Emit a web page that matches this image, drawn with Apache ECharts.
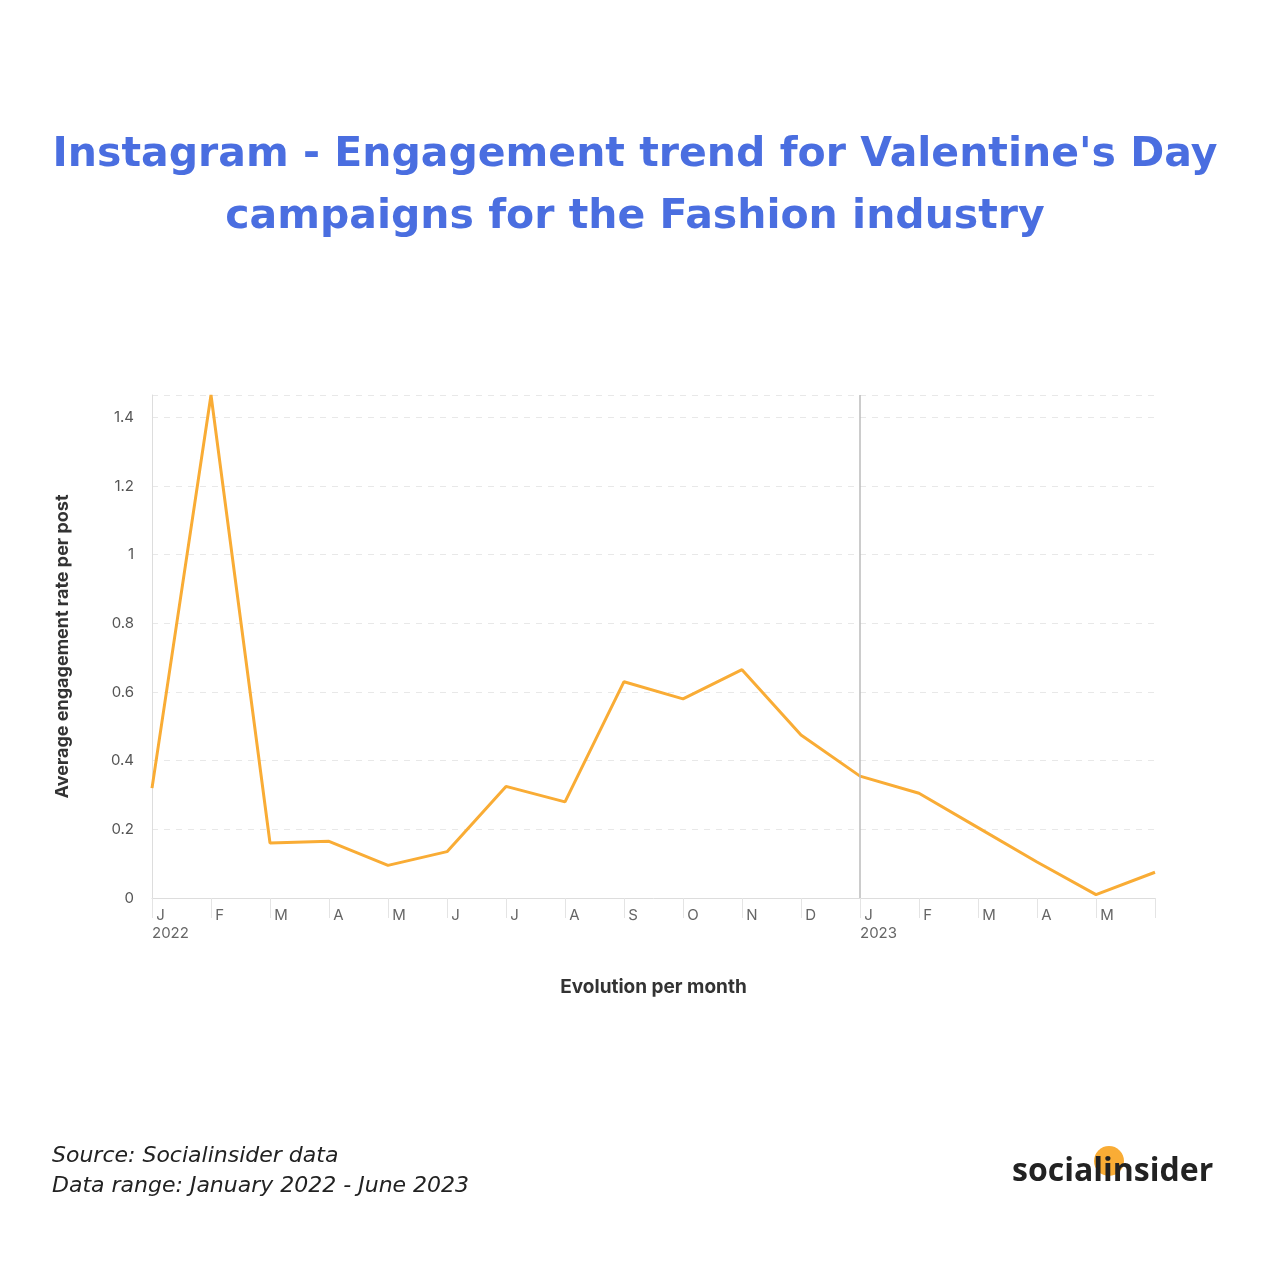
<!DOCTYPE html>
<html>
<head>
<meta charset="utf-8">
<script src="https://cdn.jsdelivr.net/npm/echarts@6/dist/echarts.min.js"></script>
<style>
  html, body { margin: 0; padding: 0; background: #fff; }
  #chart { width: 1270px; height: 1270px; }
</style>
</head>
<body>
<div id="chart"></div>
<script>
// months Jan 2022 - Jun 2023
const months = ['2022-01','2022-02','2022-03','2022-04','2022-05','2022-06','2022-07','2022-08','2022-09',
                '2022-10','2022-11','2022-12','2023-01','2023-02','2023-03','2023-04','2023-05','2023-06'];
const monthLetters = ['J','F','M','A','M','J','J','A','S','O','N','D','J','F','M','A','M',''];
const engagement = [0.32, 1.465, 0.16, 0.165, 0.095, 0.135, 0.325, 0.28, 0.63, 0.58, 0.665, 0.475,
                    0.355, 0.305, 0.205, 0.105, 0.01, 0.075];

const chart = echarts.init(document.getElementById('chart'));

chart.setOption({
    backgroundColor: '#fff',
    textStyle: { fontFamily: 'Inter, sans-serif' },
    title: {
        text: "Instagram - Engagement trend for Valentine's Day\ncampaigns for the Fashion industry",
        left: 'center',
        top: 119,
        textStyle: { color: '#4a6ee0', fontSize: 41, fontWeight: 'bold', lineHeight: 62, fontFamily: 'DejaVu Sans, sans-serif' }
    },
    grid: { left: 152, right: 115, top: 395, bottom: 372 },
    xAxis: {
        type: 'category',
        data: months,
        boundaryGap: false,
        name: 'Evolution per month',
        nameLocation: 'middle',
        nameGap: 80,
        nameTextStyle: { fontSize: 19, fontWeight: 'bold', color: '#333' },
        axisLine: { lineStyle: { color: '#ddd' } },
        axisTick: { show: true, length: 20, lineStyle: { color: '#e4e4e4' } },
        axisLabel: {
            interval: 0,
            align: 'left',
            margin: 8,
            color: '#666',
            fontSize: 15,
            lineHeight: 18,
            formatter: (v, i) => {
                const l = monthLetters[i];
                if (i === 0) return ' ' + l + '\n2022';
                if (i === 12) return ' ' + l + '\n2023';
                return ' ' + l;
            }
        }
    },
    yAxis: {
        type: 'value',
        min: 0,
        max: 1.465,
        interval: 0.2,
        name: 'Average engagement rate per post',
        nameLocation: 'middle',
        nameGap: 80,
        nameTextStyle: { fontSize: 18, fontWeight: 'bold', color: '#333' },
        axisLine: { show: true, lineStyle: { color: '#ddd' } },
        axisLabel: { color: '#555', fontSize: 15, margin: 18, showMaxLabel: false,
                     formatter: v => String(Math.round(v * 10) / 10) },
        splitLine: { lineStyle: { color: '#e8e8e8', type: [6, 6] } }
    },
    series: [{
        type: 'line',
        data: engagement,
        symbol: 'none',
        lineStyle: { color: '#f9ac35', width: 3 },
        markLine: {
            silent: true,
            symbol: 'none',
            label: { show: false },
            lineStyle: { color: '#bbb', type: 'solid', width: 1.5 },
            data: [{ xAxis: '2023-01' }]
        }
    }],
    graphic: [
        { type: 'text', left: 52, top: 1141,
          style: { text: 'Source: Socialinsider data\nData range: January 2022 - June 2023',
                   font: 'italic 22px "DejaVu Sans", sans-serif', fill: '#222', lineHeight: 30 } },
        { type: 'circle', shape: { cx: 1109, cy: 1161, r: 15 }, style: { fill: '#f9ac35' } },
        { type: 'text', left: 1012, top: 1156,
          style: { text: 'socialinsider', font: 'bold 32px "Open Sans", sans-serif', fill: '#222' } }
    ]
});
</script>
</body>
</html>
